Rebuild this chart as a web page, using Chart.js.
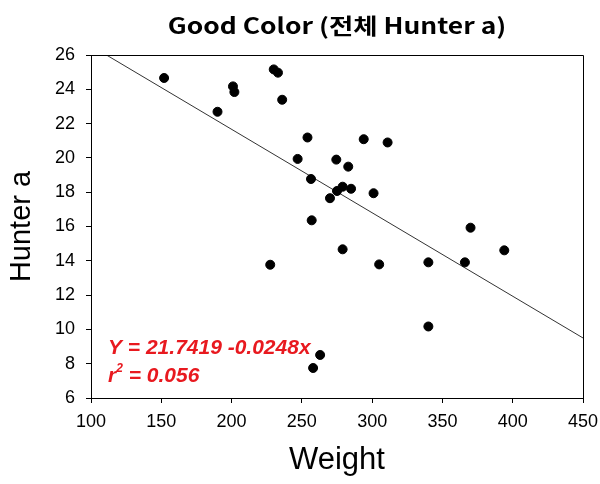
<!DOCTYPE html>
<html>
<head>
<meta charset="utf-8">
<script src="https://cdn.jsdelivr.net/npm/chart.js@4"></script>
<style>
  html, body { margin: 0; padding: 0; background: #fff; }
  #wrap { width: 600px; height: 484px; }
</style>
</head>
<body>
<div id="wrap"><canvas id="chart" width="600" height="484"></canvas></div>
<script>
// Weight vs Hunter a observations
const weights = [152, 190, 201, 202, 230, 233, 236, 254, 247, 256.5, 274.5, 275, 270, 257, 294,
                 311, 283, 279, 285, 301, 370, 279, 394, 305, 340, 366, 340, 263, 258, 227.5];
const hunterA = [24.66, 22.69, 24.17, 23.84, 25.16, 24.97, 23.39, 21.19, 19.94, 18.77, 19.9, 18.07, 17.65, 16.36, 21.09,
                 20.9, 19.49, 18.32, 18.2, 17.94, 15.93, 14.67, 14.61, 13.79, 13.91, 13.91, 10.17, 8.51, 7.75, 13.77];

// fitted line end points (weight, hunter a)
const fitX = [111, 450];
const fitY = [26, 9.5];

const xTicks = [100, 150, 200, 250, 300, 350, 400, 450];
const yTicks = [6, 8, 10, 12, 14, 16, 18, 20, 22, 24, 26];

const chartTitle = 'Good Color (전체 Hunter a)';
const eqLines = ['Y = 21.7419 -0.0248x', 'r² = 0.056'];

const scatterPoints = weights.map((w, i) => ({ x: w, y: hunterA[i] }));
const fitPoints = fitX.map((x, i) => ({ x: x, y: fitY[i] }));

const eqFont = 'italic bold 21px "Liberation Sans", Arial, sans-serif';

// title, frame around the plot area, regression label
const decorPlugin = {
    id: 'decor',
    afterDraw(chart) {
        const { ctx, chartArea: a } = chart;
        ctx.save();

        // top and right edges of the box
        ctx.strokeStyle = '#000';
        ctx.lineWidth = 1;
        ctx.beginPath();
        ctx.moveTo(a.left, a.top + 0.5);
        ctx.lineTo(a.right + 0.5, a.top + 0.5);
        ctx.lineTo(a.right + 0.5, a.bottom);
        ctx.stroke();

        // title, a bit wide
        ctx.fillStyle = '#000';
        ctx.font = 'bold 22px "Noto Sans CJK KR", "Noto Sans", sans-serif';
        ctx.textAlign = 'center';
        ctx.textBaseline = 'middle';
        ctx.save();
        ctx.translate((a.left + a.right) / 2, 26);
        ctx.scale(1.2, 1);
        ctx.fillText(chartTitle, 0, 0);
        ctx.restore();

        // regression equation
        ctx.fillStyle = '#e8191f';
        ctx.font = eqFont;
        ctx.textAlign = 'left';
        const x0 = a.left + 17;
        ctx.fillText(eqLines[0], x0, a.top + 293);
        const y1 = a.top + 321;
        ctx.fillText('r', x0, y1);
        const rw = ctx.measureText('r').width;
        ctx.font = 'italic bold 12px "Liberation Sans", Arial, sans-serif';
        ctx.fillText('2', x0 + rw, y1 - 7);
        const sw = ctx.measureText('2').width;
        ctx.font = eqFont;
        ctx.fillText(eqLines[1].slice(2), x0 + rw + sw, y1);
        ctx.restore();
    }
};

const tickFont = { family: '"Liberation Sans", Arial, sans-serif', size: 18 };

new Chart(document.getElementById('chart'), {
    type: 'scatter',
    data: {
        datasets: [
            {
                label: 'Hunter a',
                data: scatterPoints,
                backgroundColor: '#000',
                borderColor: '#000',
                pointRadius: 4.5,
                pointHoverRadius: 4.5
            },
            {
                type: 'line',
                label: 'fit',
                data: fitPoints,
                borderColor: '#333',
                borderWidth: 1,
                pointRadius: 0,
                fill: false
            }
        ]
    },
    options: {
        responsive: false,
        animation: false,
        layout: { padding: { left: 0, right: 17, top: 55, bottom: 3 } },
        plugins: {
            legend: { display: false },
            tooltip: { enabled: false },
            title: { display: false }
        },
        scales: {
            x: {
                type: 'linear',
                min: 100,
                max: 450,
                afterBuildTicks: s => { s.ticks = xTicks.map(v => ({ value: v })); },
                // fixed height; let the last label run into the right margin
                afterFit: s => { s.height = 83; s.paddingLeft = 0; s.paddingRight = 0; },
                grid: { display: true, drawOnChartArea: false, drawTicks: true, tickLength: 5, color: '#000' },
                border: { display: true, color: '#000', width: 1 },
                ticks: { color: '#000', font: tickFont, padding: 8 },
                title: {
                    display: true,
                    text: 'Weight',
                    color: '#000',
                    font: { family: '"Liberation Sans", Arial, sans-serif', size: 31 },
                    padding: { top: 0, bottom: 2 }
                }
            },
            y: {
                type: 'linear',
                min: 6,
                max: 26,
                afterBuildTicks: s => { s.ticks = yTicks.map(v => ({ value: v })); },
                afterFit: s => { s.width = 91; },
                grid: { display: true, drawOnChartArea: false, drawTicks: true, tickLength: 5, color: '#000' },
                border: { display: true, color: '#000', width: 1 },
                ticks: { color: '#000', font: tickFont, padding: 11 },
                title: {
                    display: true,
                    text: 'Hunter a',
                    color: '#000',
                    font: { family: '"Liberation Sans", Arial, sans-serif', size: 29 },
                    padding: { top: 5, bottom: 0 }
                }
            }
        }
    },
    plugins: [decorPlugin]
});
</script>
</body>
</html>
